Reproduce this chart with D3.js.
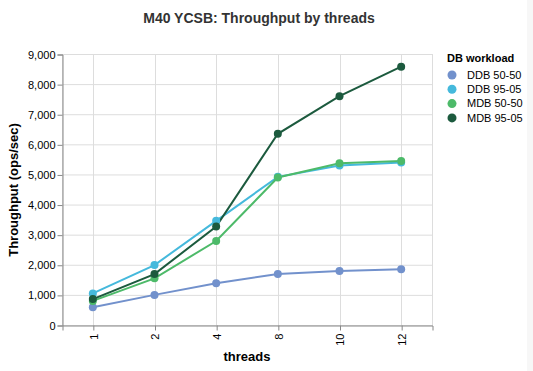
<!DOCTYPE html>
<html>
<head>
<meta charset="utf-8">
<script src="https://cdn.jsdelivr.net/npm/d3@7"></script>
<style>
html,body{margin:0;padding:0;background:#fff;}
svg{display:block;font-family:"Liberation Sans",Arial,Helvetica,sans-serif;}
</style>
</head>
<body>
<svg id="chart" width="533" height="371"></svg>
<script>
const threads = ["1","2","4","8","10","12"];
const seriesNames = ["DDB 50-50","DDB 95-05","MDB 50-50","MDB 95-05"];
const ddb5050 = [590, 1000, 1390, 1690, 1790, 1850];
const ddb9505 = [1050, 1990, 3460, 4920, 5300, 5400];
const mdb5050 = [800, 1550, 2790, 4900, 5370, 5450];
const mdb9505 = [860, 1690, 3270, 6350, 7600, 8580];
const colors = ["#7291cc", "#45b9dc", "#4dba69", "#1c5a3e"];
const yTicks = [0,1000,2000,3000,4000,5000,6000,7000,8000,9000];

const seriesValues = [ddb5050, ddb9505, mdb5050, mdb9505];
const series = seriesNames.map((n,i)=>({name:n, values:threads.map((t,j)=>({t, v:seriesValues[i][j]}))}));

const svg = d3.select("#chart");
const m = {left:62, right:432, top:54, bottom:325};

const x = d3.scalePoint().domain(threads).range([m.left, m.right]).padding(0.5);
const y = d3.scaleLinear().domain([0,9000]).range([m.bottom, m.top]);
const color = d3.scaleOrdinal().domain(seriesNames).range(colors);

// faint right strip
svg.append("rect").attr("x",527).attr("y",0).attr("width",6).attr("height",371).attr("fill","#f7f7f7");

// grid
const g = svg.append("g");
g.selectAll(".hg").data(yTicks).enter().append("line")
  .attr("x1",m.left).attr("x2",m.right)
  .attr("y1",d=>y(d)+0.5).attr("y2",d=>y(d)+0.5)
  .attr("stroke","#ddd").attr("stroke-width",1);
g.selectAll(".vg").data(threads).enter().append("line")
  .attr("x1",d=>Math.round(x(d))+0.5).attr("x2",d=>Math.round(x(d))+0.5)
  .attr("y1",m.top).attr("y2",m.bottom)
  .attr("stroke","#ddd").attr("stroke-width",1);
// view border right/top
g.append("rect").attr("x",m.left+0.5).attr("y",m.top+0.5)
  .attr("width",m.right-m.left).attr("height",m.bottom-m.top)
  .attr("fill","none").attr("stroke","#ddd");

// axes
const yAxis = svg.append("g").attr("transform",`translate(${m.left+0.5},0.5)`)
  .call(d3.axisLeft(y).tickValues(yTicks).tickSize(5).tickPadding(2).tickFormat(d3.format(",")));
const xAxis = svg.append("g").attr("transform",`translate(0.5,${m.bottom+0.5})`)
  .call(d3.axisBottom(x).tickSize(5).tickPadding(2));
[yAxis,xAxis].forEach(a=>{
  a.select(".domain").attr("stroke","#888");
  a.selectAll(".tick line").attr("stroke","#888");
  a.selectAll("text").attr("fill","#000").style("font-size","11px").style("font-family","'Liberation Sans',Arial,sans-serif");
});
xAxis.selectAll(".tick text")
  .attr("transform","rotate(-90)")
  .attr("text-anchor","end")
  .attr("x",-8).attr("y",0).attr("dy","0.35em");

// lines
const line = d3.line().x(d=>x(d.t)).y(d=>y(d.v));
svg.append("g").selectAll("path").data(series).enter().append("path")
  .attr("d",d=>line(d.values)).attr("fill","none")
  .attr("stroke",d=>color(d.name)).attr("stroke-width",2);
// points
svg.append("g").selectAll("g").data(series).enter().append("g")
  .attr("fill",d=>color(d.name))
  .selectAll("circle").data(d=>d.values).enter().append("circle")
  .attr("cx",d=>x(d.t)).attr("cy",d=>y(d.v)).attr("r",4);

// titles
svg.append("text").attr("x",259).attr("y",23).attr("text-anchor","middle")
  .style("font-size","14px").style("font-weight","bold").attr("fill","#333")
  .text("M40 YCSB: Throughput by threads");
svg.append("text").attr("x",247).attr("y",361).attr("text-anchor","middle")
  .style("font-size","13px").style("font-weight","bold").attr("fill","#000")
  .text("threads");
svg.append("text").attr("transform","translate(18,190) rotate(-90)").attr("text-anchor","middle")
  .style("font-size","13px").style("font-weight","bold").attr("fill","#000")
  .text("Throughput (ops/sec)");

// legend
const lg = svg.append("g");
lg.append("text").attr("x",447).attr("y",62).style("font-size","11px").style("font-weight","bold")
  .attr("fill","#000").text("DB workload");
const items = lg.selectAll(".li").data(seriesNames).enter().append("g")
  .attr("transform",(d,i)=>`translate(452,${75+i*14.3})`);
items.append("circle").attr("r",4.5).attr("fill",d=>color(d));
items.append("text").attr("x",15).attr("dy","0.35em").style("font-size","11px").attr("fill","#000").text(d=>d);
</script>
</body>
</html>
